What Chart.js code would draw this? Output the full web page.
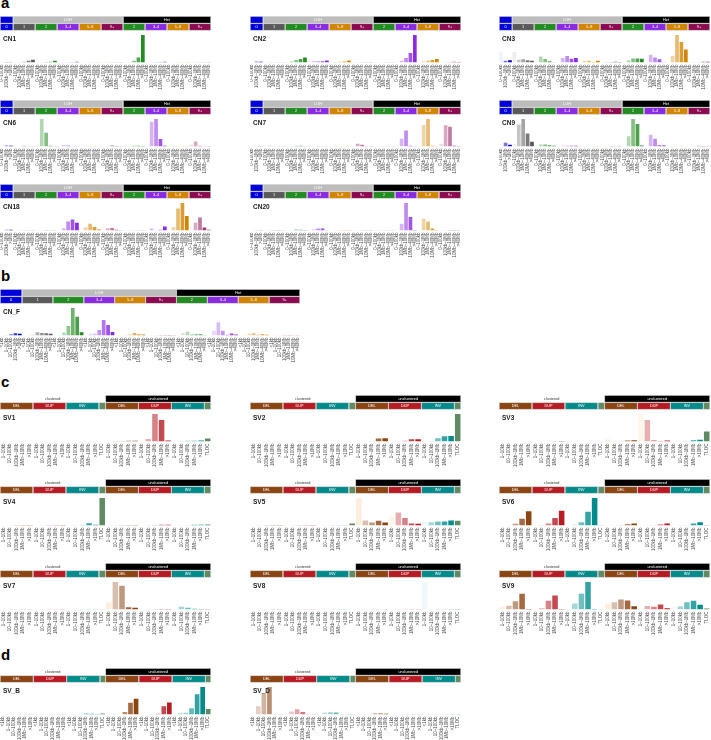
<!DOCTYPE html>
<html><head><meta charset="utf-8">
<style>
html,body{margin:0;padding:0;background:#fff;width:711px;height:740px;overflow:hidden}
canvas{position:absolute}
.tag{position:absolute;left:1px;font:bold 15px/15px "Liberation Sans",Arial,sans-serif;color:#000}
</style>
<script src="https://cdn.jsdelivr.net/npm/chart.js@4/dist/chart.umd.min.js"></script>
</head><body>
<div class="tag" style="top:-5px">a</div>
<div class="tag" style="top:268px">b</div>
<div class="tag" style="top:374px">c</div>
<div class="tag" style="top:647px">d</div>
<script>
// ---------- category bins ----------
const cnZeroBins = ["0–100kb","100kb–1Mb",">1Mb"];
const cnBins = ["0–100kb","100kb–1Mb","1Mb–10Mb","10Mb–40Mb",">40Mb"];
const cnfZeroBins = ["<1kb","1–10kb","10–100kb","100kb–1Mb",">1Mb"];
const cnfBins = ["<1kb","1–10kb","10–100kb","100kb–1Mb","1Mb–10Mb","10Mb–40Mb",">40Mb"];
const svBins = ["1–10kb","10–100kb","100kb–1Mb","1Mb–10Mb",">10Mb"];
const svFineBins = ["<1kb","1–10kb","10–100kb","100kb–1Mb","1Mb–10Mb",">10Mb"];
const tloc = ["TLOC"];
const cnClasses = ["0","1","2","3–4","5–8","9+","2","3–4","5–8","9+"];
const cnStates = ["","LOH","Het"];
const svClasses = ["DEL","DUP","INV","","DEL","DUP","INV",""];
const svStates = ["clustered","unclustered"];

// ---------- series values (height relative to the tallest bar of the panel) ----------
const CN1 = [1.5,1.5,1, 1,2,3,6,10, 0.5,1,2,3,6, 1,1,1,1.5,2.5, 0.5,0.5,0.5,0.5,0.5, 0.5,0.5,0.5,0.5,0.5, 0.5,1,6,18,100, 0.5,1,1.5,2,2.5, 0.5,0.5,0.5,0.5,0.5, 0.5,0.5,0.5,0.5,0.5];
const CN2 = [0.5,4,3, 1,2,1,1,1, 1,5,9,13,18, 5,5,5,5,7, 1,2,3,4,7, 1,1,1,1,1, 0.5,0.5,0.5,0.5,0.5, 1,6,16,35,100, 1,5,6,9,13, 1,2,2,3,2];
const CN3 = [38,6,8, 38,10,12,8,6, 0.5,22,13,5,1, 1,16,24,14,16, 1,6,6,2,6, 1,2,2,3,2, 1,8,15,15,14, 1,28,18,12,1, 1,25,100,75,47, 1,1,1,3,3];
const CN6 = [1,4,3, 1,1,3,1,1, 1,100,50,3,1, 1,5,4,1,1, 1,1,2,2,1, 1,1,4,2,1, 1,1,3,3,2, 1,90,100,27,3, 1,2,2,1,1, 6,18,3,1,1];
const CN7 = [0.5,1,1, 1,3,1,1,1, 1,2,3,3,1, 1,1,2,1,1, 1,3,1,1,1, 1,10,6,1,1, 0.5,1,1,1,1, 1,28,58,3,1, 1,78,100,3,1, 10,77,72,3,1];
const CN9 = [1,14,6, 10,80,100,47,17, 1,7,7,5,3, 2,3,3,3,3, 1,1,1,1,1, 1,1,2,1,1, 1,37,100,82,4, 1,43,28,5,4, 1,2,1,1,1, 1,1,3,2,1];
const CN18 = [1,3,3, 1,1,1,1,1, 1,1,2,1,1, 1,8,33,40,28, 1,12,25,13,4, 1,7,9,3,1, 0.5,0.5,1,1,1, 1,7,0.5,3,15, 1,13,80,100,53, 1,28,47,11,3];
const CN20 = [0.5,1,1, 1,2,2,2,1, 1,1,4,3,2, 2,4,7,7,1, 1,1,2,2,1, 1,1,1,1,1, 1,2,1,1,1, 1,25,100,49,2, 1,43,33,7,2, 1,1,2,2,1];
const CN_F = [0.5,0.5,5,8,6, 1,1,3,12,9,8,6, 1,1,11,35,100,68,12, 1,6,6,20,56,38,13, 1,1,3,4,9,5,4, 1,1,1,2,2,2,1, 1,8,14,4,5,5,1, 1,17,48,17,3,7,4, 1,3,6,8,3,5,3, 1,1,1,2,2,1,1];
const SV1 = [0.3,0.3,0.3,0.3,0.3, 0.3,0.3,0.3,0.3,0.3, 0.3,0.3,0.3,0.3,0.3, 0.3, 0.3,2,2,3,3, 0.3,9,100,78,4, 0.5,1.5,3,3,4, 11];
const SV2 = [0.3,0.3,0.3,0.3,0.3, 0.3,0.3,0.5,0.5,0.5, 0.3,0.3,0.3,0.3,0.3, 0.3, 0.3,0.3,0.5,11,12, 0.3,1,3,8,8, 0.5,2,12,19,20, 100];
const SV3 = [0.3,0.3,0.3,0.3,0.3, 0.3,0.3,0.3,0.5,2, 0.3,0.3,0.3,0.3,0.3, 0.3, 7,1,1,4,5, 100,78,5,2,4, 0.3,0.5,1,5,6, 36];
const SV4 = [0.5,1,1.5,2,2, 0.5,1,2,2,2, 0.5,1,2,8,3, 100, 0.3,1,2,2,2, 0.5,1,2,3,3, 0.5,0.5,1,3,3, 4];
const SV5 = [0.5,1,2,2,2, 0.5,1,2,2,2, 0.5,1,1,1,1, 7, 100,18,11,17,11, 34,47,27,7,6, 13,12,15,15,18, 17];
const SV6 = [0.5,1,6,25,52, 0.5,2,7,27,54, 0.5,3,12,50,100, 0.5, 0.3,0.5,1,5,7, 0.3,0.5,1,4,7, 0.5,1,1,7,12, 2];
const SV7 = [0.3,1,1,1,1, 0.3,1,1,1,1, 0.3,0.5,1,1,1, 0.5, 26,100,86,8,6, 0.5,1,2,2,2, 0.5,10,6,3,2, 2];
const SV8 = [0.3,1,1,1,1, 0.3,1,1,1,1, 0.3,1,1,1,1, 0.3, 0.3,1,1,1,1, 0.3,1,1,1,1, 100,1,1,1,1, 2];
const SV9 = [10,14,30,57,2, 1,5,32,51,2, 2,22,57,100,2, 1, 21,26,36,33,12, 3,13,10,18,5, 10,12,26,32,17, 4];
const SV_B = [0.3,1,1,1,1,1, 0.3,1,1,1,1,1, 0.3,0.5,1,4,3,2, 4, 0.3,1,1,9,43,57, 0.3,0.3,1,3,30,44, 0.3,6,6,23,74,100, 20];
const SV_D = [0.3,30,77,100,1,0.5, 0.3,11,19,9,1,0.5, 0.3,7,8,7,1,0.5, 1, 0.3,0.5,0.5,4,4,3, 0.3,1,1,1,1,0.5, 0.3,1,1,1,1,0.5, 1];

// ---------- layout of the figure ----------
const COLS = [0, 250, 499];
const PANELS = [
  {name:"CN1",data:CN1,kind:"cn",x:COLS[0],y:16},{name:"CN2",data:CN2,kind:"cn",x:COLS[1],y:16},{name:"CN3",data:CN3,kind:"cn",x:COLS[2],y:16},
  {name:"CN6",data:CN6,kind:"cn",x:COLS[0],y:100},{name:"CN7",data:CN7,kind:"cn",x:COLS[1],y:100},{name:"CN9",data:CN9,kind:"cn",x:COLS[2],y:100},
  {name:"CN18",data:CN18,kind:"cn",x:COLS[0],y:184},{name:"CN20",data:CN20,kind:"cn",x:COLS[1],y:184},
  {name:"CN_F",data:CN_F,kind:"cnf",x:0,y:289,w:300},
  {name:"SV1",data:SV1,kind:"sv",x:COLS[0],y:395},{name:"SV2",data:SV2,kind:"sv",x:COLS[1],y:395},{name:"SV3",data:SV3,kind:"sv",x:COLS[2],y:395},
  {name:"SV4",data:SV4,kind:"sv",x:COLS[0],y:479},{name:"SV5",data:SV5,kind:"sv",x:COLS[1],y:479},{name:"SV6",data:SV6,kind:"sv",x:COLS[2],y:479},
  {name:"SV7",data:SV7,kind:"sv",x:COLS[0],y:563},{name:"SV8",data:SV8,kind:"sv",x:COLS[1],y:563},{name:"SV9",data:SV9,kind:"sv",x:COLS[2],y:563},
  {name:"SV_B",data:SV_B,kind:"svf",x:COLS[0],y:668},{name:"SV_D",data:SV_D,kind:"svf",x:COLS[1],y:668}
];

const BLUE="#0000d8",GREY="#595959",GREEN="#228b22",VIOLET="#8a2be2",ORANGE="#d08400",PLUM="#8b0a50";
const BROWN="#8b4513",RED="#b71c24",TEAL="#008b8b",SAGE="#5f8a62";
const cnColors=[BLUE,GREY,GREEN,VIOLET,ORANGE,PLUM,GREEN,VIOLET,ORANGE,PLUM];
const svColors=[BROWN,RED,TEAL,SAGE,BROWN,RED,TEAL,SAGE];
const ALPHAS={1:[1],3:[.12,.55,1],5:[.15,.35,.55,.8,1],6:[.12,.25,.4,.6,.8,1],7:[.1,.2,.32,.5,.65,.82,1]};
// the palest bin of these hues is a tint rather than a transparent version of the hue
const PALEST={[BLUE]:"#ebf4ff",[GREY]:"#eeeeee",[BROWN]:"#fdeedd",[RED]:"#fef6ea",[TEAL]:"#eef7ff"};

function cnBuild(zero,bins){
  const groups=[zero,bins,bins,bins,bins,bins,bins,bins,bins,bins];
  return {groups,colors:cnColors,classes:cnClasses,
    top:[{text:cnStates[0],fill:BLUE,from:0,to:0},{text:cnStates[1],fill:"#bcbcbc",from:1,to:5,ink:"#fff"},{text:cnStates[2],fill:"#000",from:6,to:9,ink:"#fff"}]};
}
function svBuild(bins){
  const groups=[bins,bins,bins,tloc,bins,bins,bins,tloc];
  return {groups,colors:svColors,classes:svClasses,
    top:[{text:svStates[0],fill:null,from:0,to:3,ink:"#333"},{text:svStates[1],fill:"#000",from:4,to:7,ink:"#fff"}]};
}
const KINDS={cn:cnBuild(cnZeroBins,cnBins),cnf:cnBuild(cnfZeroBins,cnfBins),sv:svBuild(svBins),svf:svBuild(svFineBins)};

const FONT='"Liberation Sans",Arial,sans-serif';
const decor={
  id:"decor",
  afterDraw(chart,args,o){
    const {ctx,scales:{x}}=chart,k=o.spec;
    const step=x.getPixelForValue(1)-x.getPixelForValue(0);
    const starts=[];let n=0;k.groups.forEach(g=>{starts.push(n);n+=g.length;});starts.push(n);
    const L=i=>x.getPixelForValue(starts[i])-step/2;
    const box=(a,b,yy,h,fill,text,ink)=>{
      ctx.save();
      if(fill){ctx.fillStyle=fill;ctx.fillRect(a+.3,yy,b-a-.6,h);
        ctx.strokeStyle="#cfcfcf";ctx.lineWidth=.5;ctx.strokeRect(a+.3,yy,b-a-.6,h);}
      if(text){ctx.fillStyle=ink||"#fff";ctx.font="3.8px "+FONT;ctx.textAlign="center";ctx.textBaseline="middle";
        ctx.fillText(text,(a+b)/2,yy+h/2+.2);}
      ctx.restore();
    };
    k.top.forEach(t=>box(L(t.from),L(t.to+1),0.5,6.6,t.fill,t.text,t.ink));
    k.classes.forEach((c,i)=>box(L(i),L(i+1),7.8,6.4,k.colors[i],c,"#fff"));
    ctx.save();ctx.fillStyle="#222";ctx.font="bold 6.5px "+FONT;ctx.textBaseline="middle";
    ctx.fillText(o.title,x.left+3,23);ctx.restore();
  }
};

const PLOT_TOP=19,BASE=46.5,H=76;
PANELS.forEach(p=>{
  const spec=KINDS[p.kind],w=p.w||211;
  const labels=spec.groups.flat();
  const colors=[];
  spec.groups.forEach((g,i)=>g.forEach((_,j)=>{
    const a=ALPHAS[g.length][j],c=spec.colors[i];
    if(j===0&&g.length>1&&PALEST[c]) colors.push(PALEST[c]);
    else colors.push(c+Math.round(a*255).toString(16).padStart(2,"0"));
  }));
  const cv=document.createElement("canvas");
  cv.width=w;cv.height=H;cv.style.cssText=`left:${p.x}px;top:${p.y}px;width:${w}px;height:${H}px`;
  document.body.appendChild(cv);
  new Chart(cv,{
    type:"bar",
    data:{labels,datasets:[{data:p.data,backgroundColor:colors,borderWidth:0,barPercentage:.84,categoryPercentage:1}]},
    options:{
      responsive:false,animation:false,
      layout:{padding:{top:PLOT_TOP,left:0,right:0,bottom:0}},
      plugins:{legend:{display:false},tooltip:{enabled:false},title:{display:false},decor:{spec,title:p.name}},
      scales:{
        x:{grid:{display:false,drawTicks:false},border:{display:false},
          afterFit(s){s.height=H-BASE;s.paddingLeft=0;s.paddingRight=0;},
          ticks:{autoSkip:false,minRotation:90,maxRotation:90,padding:2,color:"#4a4a4a",font:{size:4.5,family:FONT}}},
        y:{display:false,min:0,max:100}
      }
    },
    plugins:[decor]
  });
});
</script>
</body></html>
